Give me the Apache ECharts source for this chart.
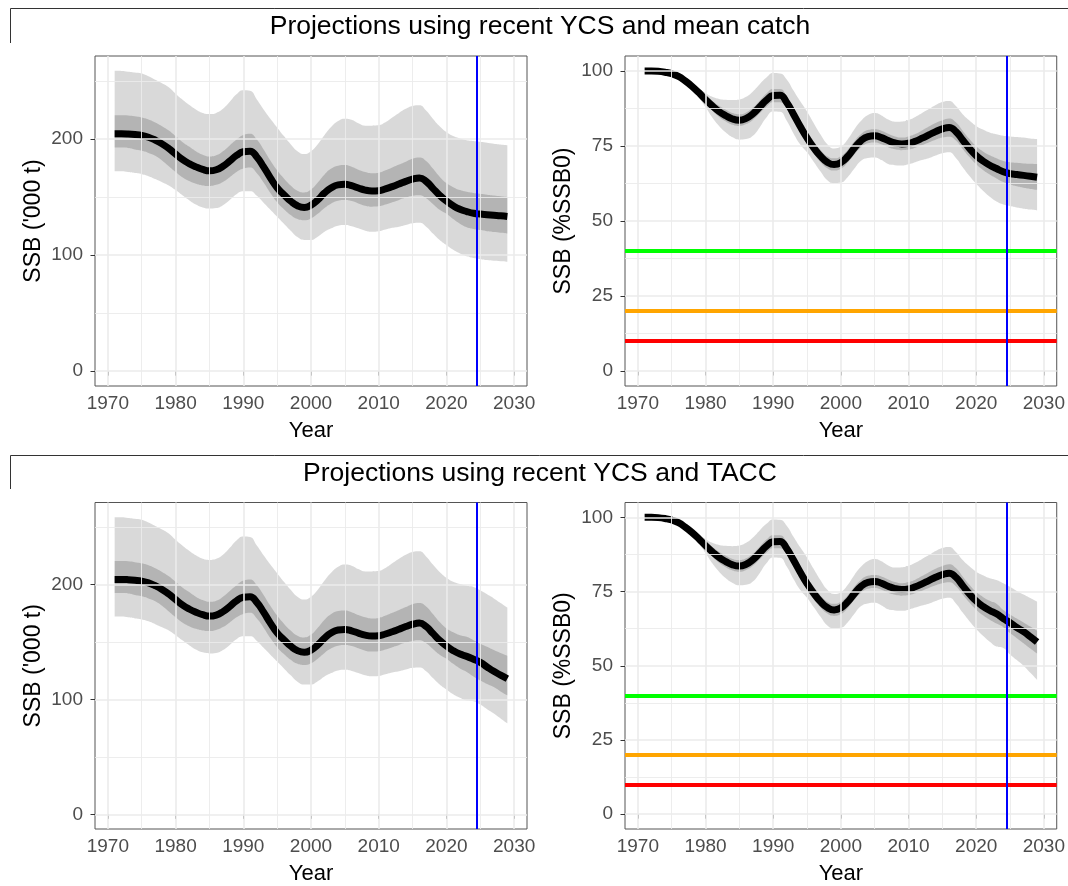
<!DOCTYPE html>
<html>
<head>
<meta charset="utf-8">
<script src="https://cdn.jsdelivr.net/npm/echarts@6/dist/echarts.min.js"></script>
<style>
  html, body { margin: 0; padding: 0; background: #ffffff; }
  #chart { width: 1068px; height: 886px; }
</style>
</head>
<body>
<div id="chart"></div>
<script>
// ---- Years ----
const histYears = [1971,1972,1973,1974,1975,1976,1977,1978,1979,1980,
  1981,1982,1983,1984,1985,1986,1987,1988,1989,1990,
  1991,1992,1993,1994,1995,1996,1997,1998,1999,2000,
  2001,2002,2003,2004,2005,2006,2007,2008,2009,2010,
  2011,2012,2013,2014,2015,2016,2017,2018,2019,2020,
  2021,2022,2023];
const projYears = [2024,2025,2026,2027,2028,2029];
const currentYear = 2024.5;

// ---- Tick labels ----
const yearTicks = [1970,1980,1990,2000,2010,2020,2030];
const yearMinor = [1975,1985,1995,2005,2015,2025];
const ssbTicks = [0,100,200];
const ssbMinor = [50,150,250];
const pctTicks = [0,25,50,75,100];
const pctMinor = [12.5,37.5,62.5,87.5];
const pctRefLevels = [40,20,10];

// ---- SSB ('000 t): history ----
const ssbMedHist = [204.5,204.5,204.3,203.8,203.0,201.5,199.0,195.8,191.8,187.0,
  182.4,178.8,176.0,173.8,172.6,173.5,176.5,181.0,185.8,189.0,
  189.5,184.5,176.0,166.5,158.0,152.0,146.5,142.5,141.0,143.0,
  147.5,153.5,158.0,160.5,161.0,159.8,157.8,156.0,155.3,155.5,
  157.0,159.0,161.2,163.5,165.5,166.5,163.5,157.5,151.5,146.5,
  142.5,139.5,137.5];
const ssbIn_hiHist = [220.5,220.5,220.3,219.5,218.5,216.8,214.2,211.0,207.3,202.5,
  197.5,193.5,189.5,186.5,185.0,186.0,189.5,194.5,199.5,203.5,
  204.5,199.5,191.0,181.5,173.0,166.0,160.0,155.5,154.0,156.5,
  162.5,169.5,174.5,177.0,177.5,176.0,173.5,171.5,170.5,171.0,
  173.0,175.5,178.0,180.5,183.0,184.0,181.0,174.5,167.5,162.0,
  158.5,156.0,154.5];
const ssbIn_loHist = [192.7,192.6,192.3,191.0,189.8,188.0,185.5,181.5,176.5,171.5,
  167.0,163.8,161.5,160.0,159.5,160.5,163.0,167.0,171.5,174.5,
  175.5,170.5,162.5,153.5,145.5,139.5,134.5,131.0,130.0,131.5,
  135.5,140.5,144.5,146.8,147.5,146.5,144.5,142.5,141.7,142.0,
  143.5,145.5,147.5,149.5,151.0,151.6,149.0,144.0,139.0,135.5,
  131.0,127.0,124.0];
const ssbOut_hiHist = [258.7,258.6,258.0,257.3,256.4,254.0,251.0,248.0,244.5,239.0,
  234.0,229.5,225.5,222.5,221.5,222.5,226.0,232.0,238.5,242.0,
  241.5,234.0,225.5,217.5,210.0,202.5,195.5,189.5,187.0,189.5,
  195.5,203.5,210.5,215.5,217.5,216.5,213.5,211.5,211.5,212.0,
  214.5,218.5,222.5,226.0,228.5,229.0,224.5,217.5,211.0,206.0,
  202.5,200.5,199.0];
const ssbOut_loHist = [172.3,172.2,171.5,170.6,169.7,168.0,165.5,162.8,160.0,156.0,
  151.5,147.3,143.5,141.0,140.1,140.5,143.0,147.5,152.5,155.0,
  155.0,151.0,145.0,139.0,133.0,127.0,121.0,115.5,113.0,113.0,
  115.8,120.0,123.0,125.3,125.8,124.8,123.0,121.0,120.1,120.5,
  122.0,123.5,124.5,126.0,127.5,127.8,124.5,118.6,113.0,108.6,
  104.5,101.4,99.0];

// ---- SSB ('000 t): projections, mean catch ----
const ssbMedMean = [136.0,135.3,134.8,134.3,133.8,133.2];
const ssbIn_hiMean = [153.5,152.8,152.0,151.3,150.6,150.0];
const ssbIn_loMean = [122.5,121.5,120.5,119.8,119.2,118.6];
const ssbOut_hiMean = [198.3,197.6,196.8,196.0,195.3,194.7];
const ssbOut_loMean = [97.5,96.5,95.7,95.0,94.6,94.2];

// ---- SSB ('000 t): projections, TACC ----
const ssbMedTacc = [135.0,132.3,128.3,124.5,121.2,118.0];
const ssbIn_hiTacc = [151.5,148.5,145.8,143.0,140.5,138.0];
const ssbIn_loTacc = [120.0,116.5,113.5,110.8,107.0,103.6];
const ssbOut_hiTacc = [198.0,195.0,191.5,188.0,184.0,180.0];
const ssbOut_loTacc = [98.5,95.5,91.5,87.8,83.5,79.2];

// ---- SSB (%SSB0): history ----
const pctMedHist = [100,100,99.9,99.6,99.1,98.2,96.7,94.9,92.8,90.5,
  88.4,86.5,85.1,84.0,83.6,84.2,85.7,88.0,90.3,91.8,
  91.9,89.5,85.6,81.5,77.7,74.4,71.6,69.6,68.8,69.5,
  71.5,74.3,76.8,78.1,78.4,77.8,76.8,76.0,75.7,75.9,
  76.6,77.6,78.7,79.8,80.7,81.2,79.8,77.0,74.2,71.8,
  70.0,68.6,67.5];
const pctIn_hiHist = [100,100,99.9,99.7,99.3,98.5,97.2,95.6,93.8,91.9,
  90.1,88.4,87.1,86.0,85.6,86.2,87.8,90.1,92.5,94.0,
  94.0,91.6,87.7,83.6,79.8,76.5,73.7,71.6,70.9,71.6,
  73.7,76.6,79.0,80.3,80.6,80.1,79.1,78.2,77.8,78.2,
  79.0,80.2,81.5,82.7,83.6,84.2,82.9,80.1,77.3,74.9,
  73.2,71.9,70.9];
const pctIn_loHist = [100,100,99.9,99.5,98.9,97.9,96.2,94.2,91.8,89.2,
  86.8,84.7,83.2,82.1,81.7,82.3,83.7,85.9,88.1,89.6,
  89.6,87.4,83.6,79.5,75.7,72.4,69.6,67.6,66.8,67.4,
  69.4,72.2,74.6,75.9,76.2,75.6,74.6,73.9,73.6,73.8,
  74.4,75.3,76.2,77.1,77.8,78.1,76.8,74.0,71.3,68.9,
  67.0,65.5,64.2];
const pctOut_hiHist = [100,100,99.9,99.7,99.3,98.6,97.4,96.0,94.3,92.7,
  91.4,90.7,90.4,90.3,90.5,91.4,93.2,95.6,97.8,99.3,
  99.2,97.2,93.5,89.9,86.5,82.6,78.8,75.6,74.2,74.8,
  77.2,80.6,83.4,85.3,86.0,85.2,83.8,83.1,83.2,83.7,
  84.7,86.0,87.3,88.7,89.7,90.0,88.3,85.6,83.5,81.7,
  80.5,79.5,78.9];
const pctOut_loHist = [100,100,99.9,99.5,98.9,97.8,96.0,93.8,91.2,88.0,
  84.5,81.7,79.5,77.9,77.1,77.3,78.4,81.2,84.5,86.5,
  86.4,83.4,79.2,75.5,72.9,69.7,66.5,63.6,62.6,62.8,
  64.6,67.5,70.1,71.0,71.2,70.3,69.0,68.6,68.5,68.9,
  69.6,70.3,70.9,71.8,72.6,72.9,71.0,67.9,65.0,62.4,
  60.1,58.1,56.5];

// ---- SSB (%SSB0): projections, mean catch ----
const pctMedMean = [66.4,65.8,65.5,65.2,64.9,64.6];
const pctIn_hiMean = [70.0,69.6,69.4,69.2,69.1,69.0];
const pctIn_loMean = [63.0,62.2,61.6,61.1,60.7,60.4];
const pctOut_hiMean = [78.4,78.2,78.0,77.8,77.5,77.3];
const pctOut_loMean = [55.5,55.0,54.5,54.1,53.8,53.5];

// ---- SSB (%SSB0): projections, TACC ----
const pctMedTacc = [65.9,64.5,62.9,61.5,59.8,58.0];
const pctIn_hiTacc = [68.8,67.3,65.9,64.6,63.2,61.8];
const pctIn_loTacc = [63.0,61.0,59.3,57.6,55.8,54.1];
const pctOut_hiTacc = [77.8,76.6,75.2,74.0,72.8,71.6];
const pctOut_loTacc = [56.0,53.8,51.9,50.0,47.6,45.2];

// ---- Styling ----
const FONT = '"Liberation Sans", Arial, Helvetica, sans-serif';
const SMOOTH = 0.5;
const years = histYears.concat(projYears);
const pairs = vals => vals.map((v, i) => [years[i], v]);
// value-first rows so that stacking happens on the y dimension
const stackRows = vals => vals.map((v, i) => [v, years[i]]);

const panels = [
  { top: 56, left: 95,  unit: 'ssb', med: ssbMedHist.concat(ssbMedMean),
    inLo: ssbIn_loHist.concat(ssbIn_loMean), inHi: ssbIn_hiHist.concat(ssbIn_hiMean),
    outLo: ssbOut_loHist.concat(ssbOut_loMean), outHi: ssbOut_hiHist.concat(ssbOut_hiMean) },
  { top: 56, left: 625, unit: 'pct', med: pctMedHist.concat(pctMedMean),
    inLo: pctIn_loHist.concat(pctIn_loMean), inHi: pctIn_hiHist.concat(pctIn_hiMean),
    outLo: pctOut_loHist.concat(pctOut_loMean), outHi: pctOut_hiHist.concat(pctOut_hiMean) },
  { top: 502.5, left: 95,  unit: 'ssb', med: ssbMedHist.concat(ssbMedTacc),
    inLo: ssbIn_loHist.concat(ssbIn_loTacc), inHi: ssbIn_hiHist.concat(ssbIn_hiTacc),
    outLo: ssbOut_loHist.concat(ssbOut_loTacc), outHi: ssbOut_hiHist.concat(ssbOut_hiTacc) },
  { top: 502.5, left: 625, unit: 'pct', med: pctMedHist.concat(pctMedTacc),
    inLo: pctIn_loHist.concat(pctIn_loTacc), inHi: pctIn_hiHist.concat(pctIn_hiTacc),
    outLo: pctOut_loHist.concat(pctOut_loTacc), outHi: pctOut_hiHist.concat(pctOut_hiTacc) }
];

const grids = [], xAxes = [], yAxes = [], series = [];

panels.forEach((p, gi) => {
  const isPct = p.unit === 'pct';
  const yTicks = isPct ? pctTicks : ssbTicks;
  const yMinor = isPct ? pctMinor : ssbMinor;

  grids.push({
    left: p.left, top: p.top, width: 432, height: 330,
    show: true, borderColor: '#555555', borderWidth: 1, backgroundColor: '#ffffff'
  });

  xAxes.push({
    gridIndex: gi, type: 'value', min: 1968.1, max: 2031.9,
    axisLine: { show: false }, splitLine: { show: false },
    axisTick: { show: true, length: 4.5, customValues: yearTicks, lineStyle: { color: '#333333', width: 1 } },
    axisLabel: { customValues: yearTicks, margin: 8, fontSize: 19, color: '#4D4D4D', fontFamily: FONT,
      formatter: v => String(v) },
    name: 'Year', nameLocation: 'middle', nameGap: 34,
    nameTextStyle: { fontSize: 22, color: '#000000', fontFamily: FONT }
  });

  yAxes.push({
    gridIndex: gi, type: 'value',
    min: isPct ? -5 : -12.8, max: isPct ? 105 : 271.5,
    axisLine: { show: false }, splitLine: { show: false },
    axisTick: { show: true, length: 4.5, customValues: yTicks, lineStyle: { color: '#333333', width: 1 } },
    axisLabel: { customValues: yTicks, margin: 12, fontSize: 19, color: '#4D4D4D', fontFamily: FONT,
      formatter: v => String(v) },
    name: isPct ? 'SSB (%SSB0)' : "SSB ('000 t)", nameLocation: 'middle', nameGap: 50,
    nameTextStyle: { fontSize: 23, color: '#000000', fontFamily: FONT }
  });

  // panel grid lines
  const gl = [];
  yearTicks.forEach(v => gl.push({ xAxis: v, lineStyle: { width: 1.6 } }));
  yearMinor.forEach(v => gl.push({ xAxis: v, lineStyle: { width: 0.9 } }));
  yTicks.forEach(v => gl.push({ yAxis: v, lineStyle: { width: 1.6 } }));
  yMinor.forEach(v => gl.push({ yAxis: v, lineStyle: { width: 0.9 } }));
  series.push({
    type: 'line', xAxisIndex: gi, yAxisIndex: gi, data: [], z: 1, silent: true,
    markLine: { silent: true, animation: false, symbol: ['none', 'none'], label: { show: false },
      lineStyle: { color: '#EBEBEB', type: 'solid' }, data: gl }
  });

  // uncertainty bands: outer then inner
  const band = (lo, hi, key, color) => {
    series.push({
      type: 'line', xAxisIndex: gi, yAxisIndex: gi, stack: key, z: 2, silent: true,
      encode: { x: 1, y: 0 },
      smooth: SMOOTH, symbol: 'none', lineStyle: { opacity: 0 },
      data: stackRows(lo)
    });
    series.push({
      type: 'line', xAxisIndex: gi, yAxisIndex: gi, stack: key, z: 2, silent: true,
      encode: { x: 1, y: 0 },
      smooth: SMOOTH, symbol: 'none', lineStyle: { opacity: 0 },
      areaStyle: { color: color, opacity: 1 },
      data: stackRows(hi.map((v, i) => v - lo[i]))
    });
  };
  band(p.outLo, p.outHi, 'outer' + gi, 'rgba(0,0,0,0.15)');
  band(p.inLo, p.inHi, 'inner' + gi, 'rgba(0,0,0,0.17)');

  // median trajectory
  series.push({
    type: 'line', xAxisIndex: gi, yAxisIndex: gi, z: 3, silent: true,
    smooth: SMOOTH, symbol: 'none',
    lineStyle: { color: '#000000', width: 7, join: 'round' },
    data: pairs(p.med)
  });

  // reference lines
  const refs = [];
  if (isPct) {
    const cols = ['#00FF00', '#FFA500', '#FF0000'];
    pctRefLevels.forEach((v, i) => refs.push({ yAxis: v, lineStyle: { color: cols[i], width: 4 } }));
  }
  refs.push({ xAxis: currentYear, lineStyle: { color: '#0000FF', width: 2 } });
  series.push({
    type: 'line', xAxisIndex: gi, yAxisIndex: gi, data: [], z: 4, silent: true,
    markLine: { silent: true, animation: false, symbol: ['none', 'none'], label: { show: false },
      lineStyle: { type: 'solid' }, data: refs }
  });
});

const strip = (y0, y1, ty, text) => [
  { type: 'polyline', silent: true,
    shape: { points: [[10.5, y1], [10.5, y0], [1068, y0]] },
    style: { stroke: '#333333', lineWidth: 1, fill: null } },
  { type: 'text', silent: true, x: 540, y: ty,
    style: { text: text, font: '26.5px ' + FONT, fill: '#000000',
      align: 'center', verticalAlign: 'middle', textAlign: 'center', textVerticalAlign: 'middle' } }
];

const chart = echarts.init(document.getElementById('chart'), null, { renderer: 'canvas' });
chart.setOption({
  animation: false,
  backgroundColor: '#ffffff',
  textStyle: { fontFamily: FONT },
  grid: grids,
  xAxis: xAxes,
  yAxis: yAxes,
  series: series,
  graphic: strip(8.5, 43, 27, 'Projections using recent YCS and mean catch')
    .concat(strip(455.5, 489, 474, 'Projections using recent YCS and TACC'))
});
</script>
</body>
</html>
